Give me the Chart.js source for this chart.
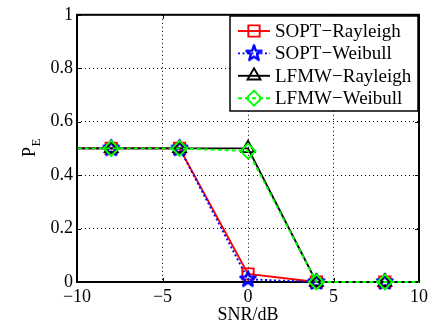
<!DOCTYPE html>
<html>
<head>
<meta charset="utf-8">
<script src="https://cdn.jsdelivr.net/npm/chart.js@4.4.1/dist/chart.umd.min.js"></script>
<style>
  html, body { margin: 0; padding: 0; background: #fff; }
  #wrap { width: 432px; height: 324px; }
</style>
</head>
<body>
<div id="wrap"><canvas id="chart" width="432" height="324"></canvas></div>
<script>
// SNR points (the ones at -12 and 12 sit outside the visible axis range)
const snr = [-12, -8, -4, 0, 4, 8, 12];
const soptRayleigh = [0.5, 0.5, 0.5, 0.03, 0, 0, 0];
const soptWeibull  = [0.5, 0.5, 0.5, 0.01, 0, 0, 0];
const lfmwRayleigh = [0.5, 0.5, 0.5, 0.5, 0, 0, 0];
const lfmwWeibull  = [0.5, 0.5, 0.5, 0.49, 0, 0, 0];
const seriesNames = ['SOPT\u2212Rayleigh', 'SOPT\u2212Weibull', 'LFMW\u2212Rayleigh', 'LFMW\u2212Weibull'];
const xTicks = [-10, -5, 0, 5, 10];
const yTicks = [0, 0.2, 0.4, 0.6, 0.8, 1];

const FONT = '"Liberation Serif", "Times New Roman", serif';

// pentagram marker, drawn once to a small canvas
function starCanvas(color, r) {
  const c = document.createElement('canvas');
  const s = Math.ceil(2 * r + 4);
  c.width = s; c.height = s;
  const g = c.getContext('2d');
  g.beginPath();
  for (let i = 0; i < 10; i++) {
    const rr = i % 2 === 0 ? r : r * 0.4;
    const a = -Math.PI / 2 + i * Math.PI / 5;
    const px = s / 2 + rr * Math.cos(a), py = s / 2 + rr * Math.sin(a);
    if (i === 0) g.moveTo(px, py); else g.lineTo(px, py);
  }
  g.closePath();
  g.strokeStyle = color;
  g.lineWidth = 2.4;
  g.lineJoin = 'round';
  g.stroke();
  return c;
}
const star = starCanvas('#0000ff', 8);

const pts = arr => arr.map((v, i) => ({ x: snr[i], y: v }));

const styles = [
  { color: '#ff0000', dash: [], marker: 'rect', radius: 8 },
  { color: '#0000ff', dash: [2, 2.5], marker: star, radius: 8 },
  { color: '#000000', dash: [], marker: 'triangle', radius: 7.5 },
  { color: '#00ff00', dash: [4, 3], marker: 'rectRot', radius: 7.5 }
];
const values = [soptRayleigh, soptWeibull, lfmwRayleigh, lfmwWeibull];

const datasets = values.map((v, i) => ({
  label: seriesNames[i],
  data: pts(v),
  borderColor: styles[i].color,
  backgroundColor: 'rgba(0,0,0,0)',
  borderWidth: 1.9,
  borderDash: styles[i].dash,
  pointStyle: styles[i].marker,
  pointRadius: styles[i].radius,
  pointBorderColor: styles[i].color,
  pointBackgroundColor: 'rgba(0,0,0,0)',
  pointBorderWidth: 1.9,
  tension: 0,
  order: 4 - i,
  clip: { left: 0, right: 0, top: 20, bottom: 20 }
}));

function drawMarker(ctx, st, x, y) {
  ctx.save();
  ctx.strokeStyle = st.color;
  ctx.lineWidth = 1.9;
  ctx.setLineDash([]);
  const r = st.radius;
  ctx.beginPath();
  if (st.marker === 'rect') {
    const h = r * Math.SQRT1_2;
    ctx.rect(x - h, y - h, 2 * h, 2 * h);
  } else if (st.marker === 'triangle') {
    for (let k = 0; k < 3; k++) {
      const a = -Math.PI / 2 + k * 2 * Math.PI / 3;
      const px = x + r * Math.cos(a), py = y + r * Math.sin(a);
      if (k === 0) ctx.moveTo(px, py); else ctx.lineTo(px, py);
    }
    ctx.closePath();
  } else if (st.marker === 'rectRot') {
    ctx.moveTo(x, y - r); ctx.lineTo(x + r, y); ctx.lineTo(x, y + r); ctx.lineTo(x - r, y); ctx.closePath();
  } else {
    ctx.drawImage(st.marker, x - st.marker.width / 2, y - st.marker.height / 2);
  }
  ctx.stroke();
  ctx.restore();
}

const decorations = {
  id: 'decorations',
  beforeDatasetsDraw(chart) {
    const { ctx, chartArea: a, scales } = chart;
    ctx.save();
    // inner tick marks
    ctx.strokeStyle = '#000';
    ctx.lineWidth = 1;
    ctx.beginPath();
    xTicks.forEach(t => {
      const px = Math.round(scales.x.getPixelForValue(t)) + 0.5;
      ctx.moveTo(px, a.bottom); ctx.lineTo(px, a.bottom - 4);
      ctx.moveTo(px, a.top); ctx.lineTo(px, a.top + 4);
    });
    yTicks.forEach(t => {
      const py = Math.round(scales.y.getPixelForValue(t)) + 0.5;
      ctx.moveTo(a.left, py); ctx.lineTo(a.left + 4, py);
      ctx.moveTo(a.right, py); ctx.lineTo(a.right - 4, py);
    });
    ctx.stroke();
    // axes box
    ctx.lineWidth = 2;
    ctx.strokeRect(a.left, a.top, a.right - a.left, a.bottom - a.top);
    ctx.restore();
  },
  afterDraw(chart) {
    const { ctx, chartArea: a } = chart;
    ctx.save();
    ctx.fillStyle = '#000';
    // x axis title
    ctx.font = '18px ' + FONT;
    ctx.textAlign = 'center';
    ctx.textBaseline = 'alphabetic';
    ctx.fillText('SNR/dB', (a.left + a.right) / 2, 320);
    // y axis title P_E
    ctx.translate(35, 157);
    ctx.rotate(-Math.PI / 2);
    ctx.textAlign = 'left';
    ctx.font = '18px ' + FONT;
    ctx.fillText('P', 0, 0);
    const pw = ctx.measureText('P').width;
    ctx.font = '13px ' + FONT;
    ctx.fillText('E', pw + 0.5, 5);
    ctx.restore();

    // legend
    ctx.save();
    const lx = 230, ly = 16, lw = 188, lh = 95;
    ctx.fillStyle = '#fff';
    ctx.fillRect(lx, ly, lw, lh);
    ctx.strokeStyle = '#000';
    ctx.lineWidth = 1.5;
    ctx.strokeRect(lx, ly, lw, lh);
    ctx.font = '19px ' + FONT;
    ctx.textBaseline = 'middle';
    ctx.textAlign = 'left';
    seriesNames.forEach((name, i) => {
      const st = styles[i];
      const cy = ly + 15 + i * 22.4;
      ctx.strokeStyle = st.color;
      ctx.lineWidth = 1.9;
      ctx.setLineDash(st.dash);
      ctx.beginPath();
      ctx.moveTo(238, cy); ctx.lineTo(270, cy);
      ctx.stroke();
      ctx.setLineDash([]);
      drawMarker(ctx, st, 254, cy);
      ctx.fillStyle = '#000';
      ctx.fillText(name, 275, cy + 1);
    });
    ctx.restore();
  }
};

new Chart(document.getElementById('chart'), {
  type: 'line',
  data: { datasets: datasets },
  plugins: [decorations],
  options: {
    responsive: false,
    animation: false,
    events: [],
    layout: { padding: { top: 12, right: 10, left: 0, bottom: 0 } },
    plugins: { legend: { display: false }, tooltip: { enabled: false } },
    scales: {
      x: {
        type: 'linear', min: -10, max: 10,
        afterFit: s => { s.height = 42; },
        afterBuildTicks: s => { s.ticks = xTicks.map(v => ({ value: v })); },
        grid: { color: '#000', lineWidth: 1, drawTicks: false },
        border: { display: false, dash: [1, 3] },
        ticks: {
          padding: 4, color: '#000', font: { family: FONT, size: 18 }, maxRotation: 0,
          callback: v => String(v).replace('-', '\u2212')
        }
      },
      y: {
        min: 0, max: 1,
        afterFit: s => { s.width = 77; },
        afterBuildTicks: s => { s.ticks = yTicks.map(v => ({ value: v })); },
        grid: { color: '#000', lineWidth: 1, drawTicks: false },
        border: { display: false, dash: [1, 3] },
        ticks: {
          padding: 4, color: '#000', font: { family: FONT, size: 18 },
          callback: v => String(Math.round(v * 10) / 10)
        }
      }
    }
  }
});
</script>
</body>
</html>
